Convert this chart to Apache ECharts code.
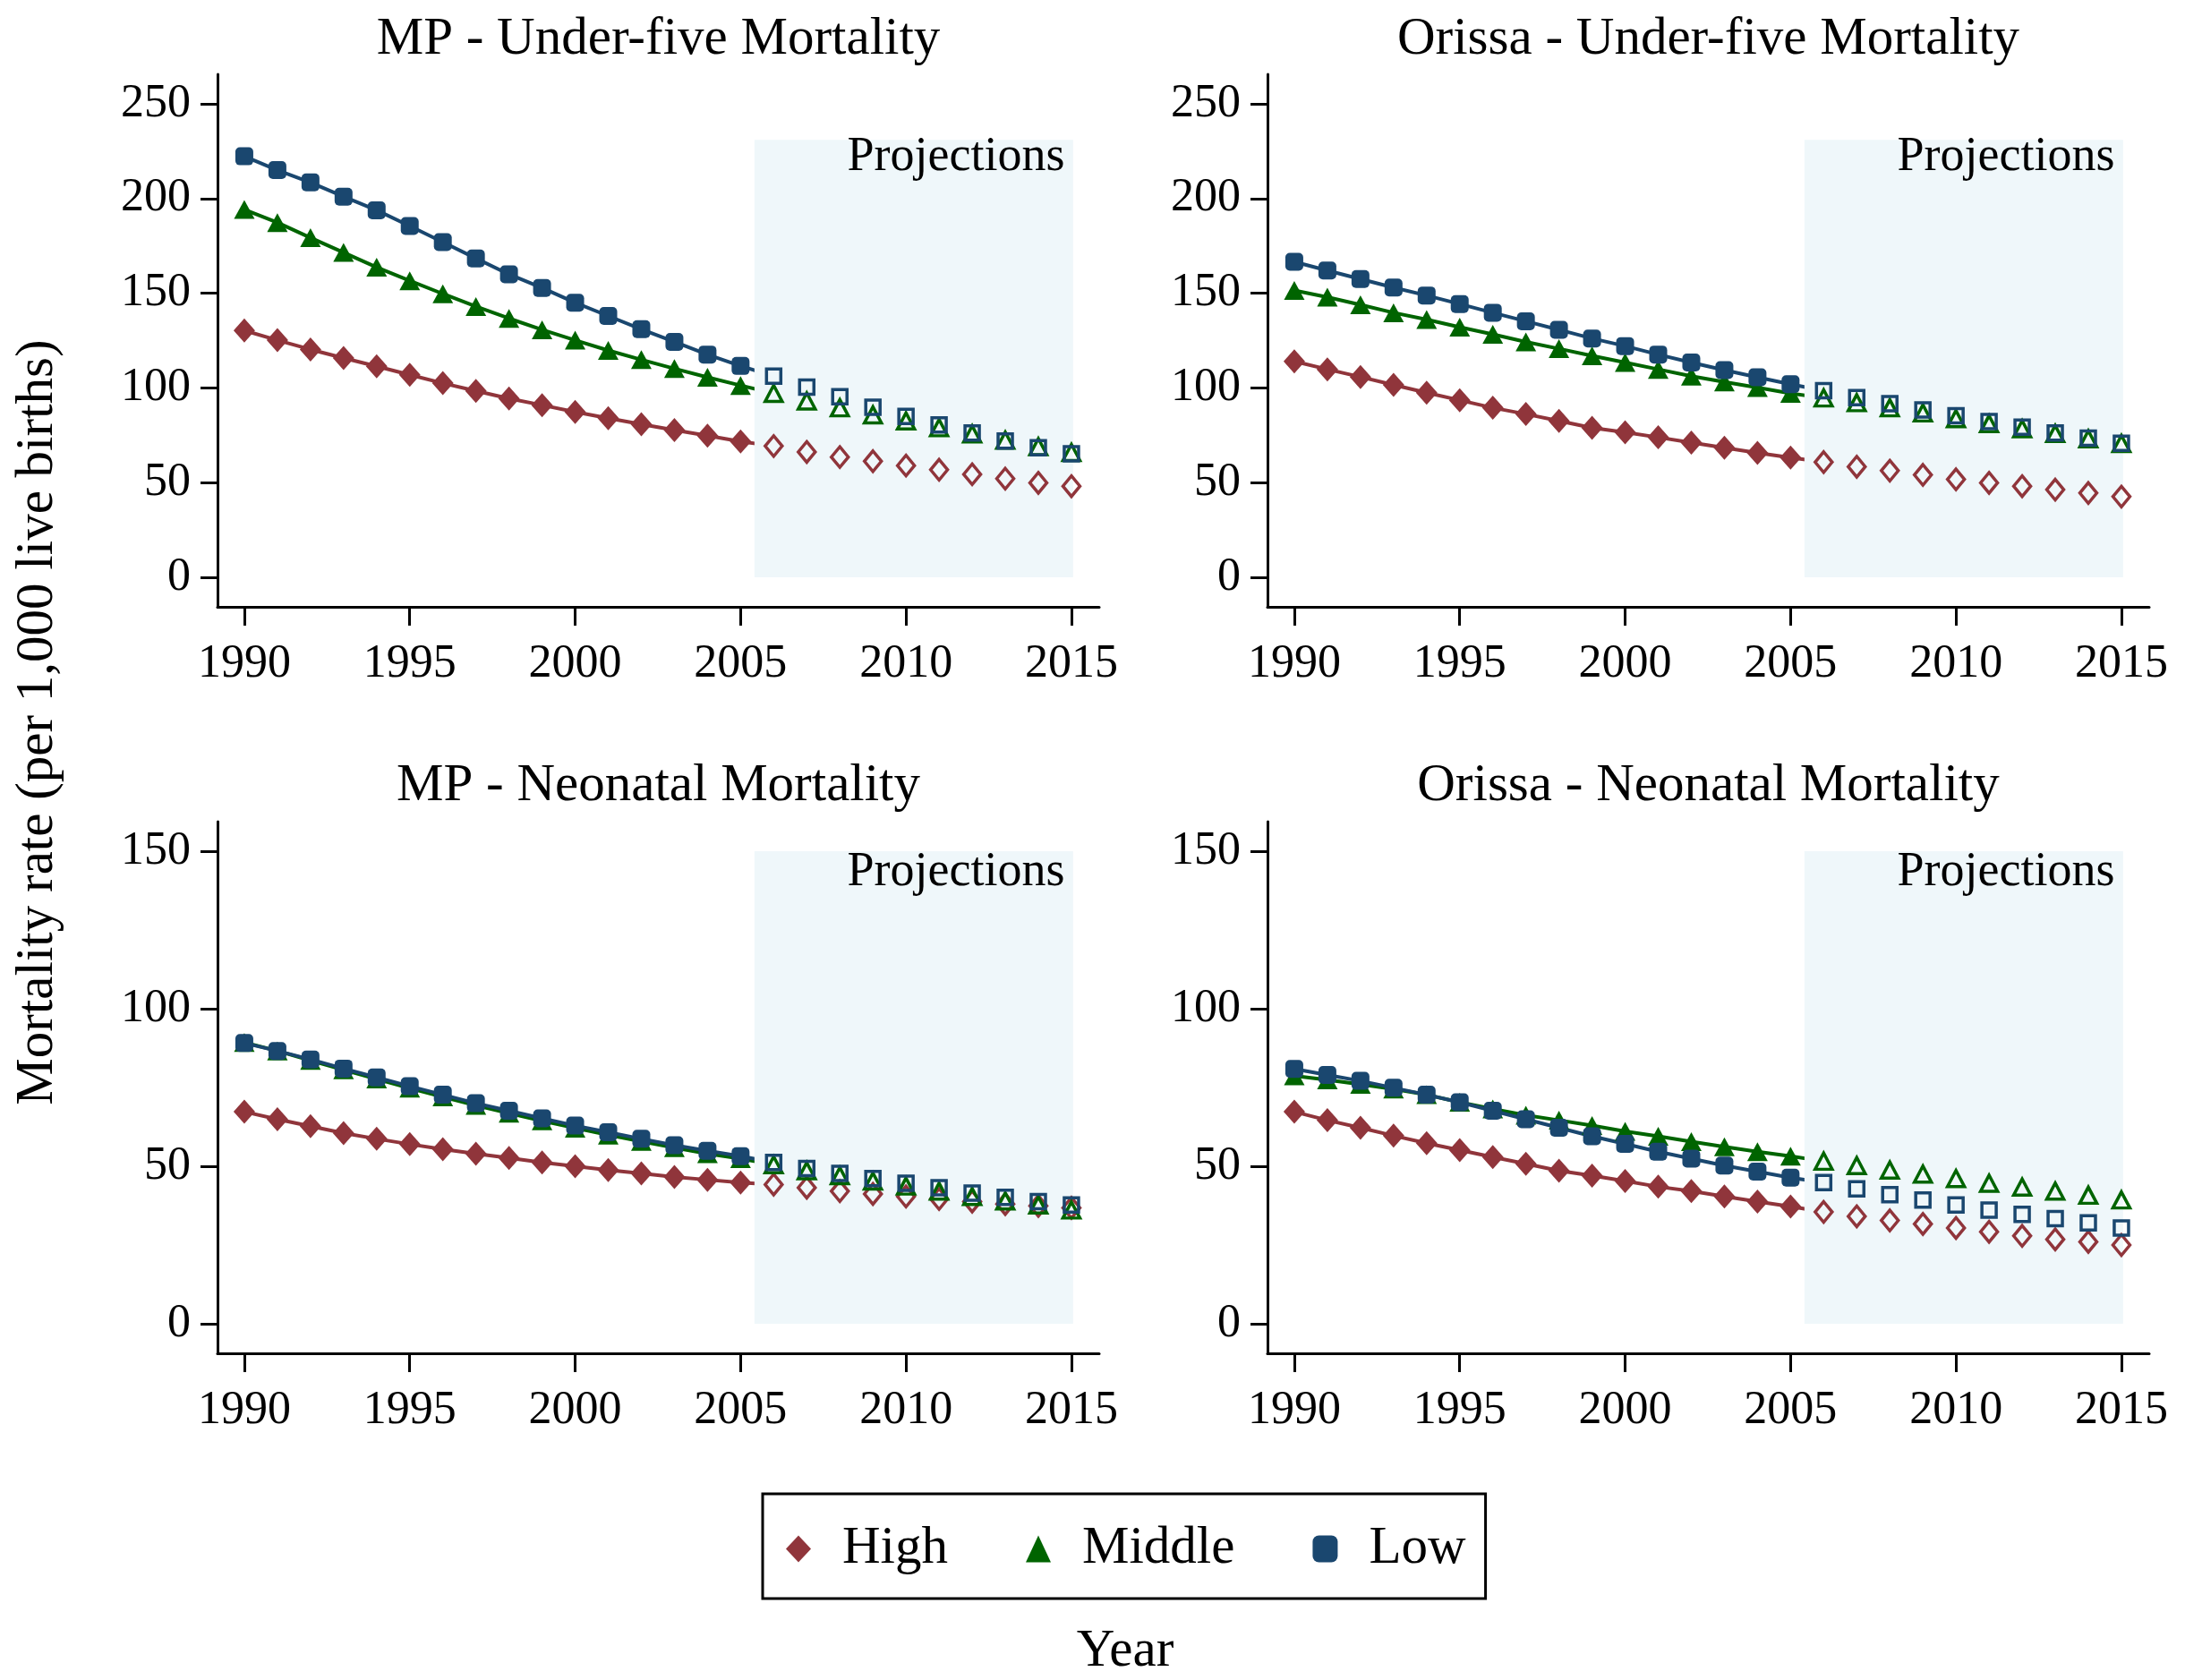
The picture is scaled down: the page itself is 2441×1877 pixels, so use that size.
<!DOCTYPE html>
<html><head><meta charset="utf-8">
<script src="https://cdn.jsdelivr.net/npm/echarts@6/dist/echarts.min.js"></script>
<style>html,body{margin:0;padding:0;background:#fff}#c{width:2441px;height:1877px}</style>
</head><body><div id="c"></div>
<script>
// ---------- data ----------
const years = [1990,1991,1992,1993,1994,1995,1996,1997,1998,1999,2000,2001,2002,2003,2004,2005,
               2006,2007,2008,2009,2010,2011,2012,2013,2014,2015];
const lastObservedYear = 2005;
const yearTicks = [1990,1995,2000,2005,2010,2015];
const u5Ticks = [0,50,100,150,200,250];
const nnTicks = [0,50,100,150];
const groupNames = ['High','Middle','Low'];
const panelTitles = ['MP - Under-five Mortality','Orissa - Under-five Mortality',
                     'MP - Neonatal Mortality','Orissa - Neonatal Mortality'];
const projectionLabel = 'Projections';
const projStart = 2005.42, projEnd = 2015.05;
const u5ProjTop = 231, nnProjTop = 150;

const mpU5High = [130.3,125.2,120.3,115.8,111.4,106.9,102.5,98.4,94.4,90.9,87.3,84.0,80.8,77.7,74.8,71.7,
                  69.3,66.2,63.5,61.3,59.0,56.8,54.4,52.1,49.9,48.1];
const mpU5Mid  = [194.2,187.3,179.3,171.5,163.7,156.6,149.7,143.0,136.7,130.7,125.2,119.8,114.9,110.2,105.6,101.3,
                  97.1,93.1,89.5,85.8,82.6,79.0,75.7,72.4,69.0,65.9];
const mpU5Low  = [222.3,215.0,208.5,201.0,193.8,185.5,177.0,168.4,160.0,152.8,145.0,138.0,131.0,124.3,117.6,111.6,
                  106.2,100.4,95.3,89.8,84.9,80.4,76.2,72.0,68.4,65.2];

const orU5High = [114.0,109.8,105.8,101.6,97.5,93.5,89.5,86.2,82.6,78.9,76.6,73.9,71.1,68.4,65.7,63.2,
                  60.8,58.4,56.3,54.1,51.7,49.9,48.1,46.3,44.5,42.6];
const orU5Mid  = [151.5,147.9,143.9,139.7,136.1,132.1,128.3,124.3,120.7,117.0,113.4,109.8,106.2,103.1,100.2,97.1,
                  94.7,92.2,89.5,86.8,83.8,81.1,78.4,75.9,73.1,70.6];
const orU5Low  = [166.6,162.0,157.5,153.0,148.8,144.3,139.7,135.2,130.7,126.1,122.1,117.6,113.4,109.4,105.6,102.0,
                  98.5,94.9,91.7,88.4,85.3,82.2,79.3,76.2,73.5,70.8];

const mpNNHigh = [67.3,64.9,62.7,60.5,58.7,57.0,55.4,54.0,52.6,51.2,50.0,48.8,47.7,46.6,45.7,44.8,
                  44.2,43.2,42.1,41.2,40.4,39.6,38.8,38.0,37.4,36.8];
const mpNNMid  = [89.3,86.6,83.6,80.6,77.7,74.8,72.0,69.3,66.8,64.4,62.1,59.9,57.9,55.9,54.0,52.4,
                  50.5,48.6,47.0,45.3,43.7,42.1,40.4,39.0,37.7,36.1];
const mpNNLow  = [89.1,86.6,83.9,81.0,78.2,75.4,72.7,70.0,67.6,65.2,62.9,60.8,58.7,56.7,54.9,53.2,
                  51.2,49.3,47.7,46.1,44.6,43.2,41.5,40.1,38.8,37.7];

const orNNHigh = [67.3,64.6,62.2,59.7,57.3,55.1,52.9,50.8,48.6,47.0,45.3,43.5,42.1,40.4,38.8,37.2,
                  35.5,34.1,32.8,31.7,30.4,29.2,27.9,26.8,26.0,25.0];
const orNNMid  = [78.7,77.4,76.0,74.5,72.7,70.3,68.2,66.2,64.6,62.9,61.1,59.5,57.8,56.2,54.6,53.2,
                  51.6,50.2,48.8,47.5,46.1,44.6,43.4,42.1,40.8,39.3];
const orNNLow  = [80.9,79.0,77.1,74.9,72.7,70.3,67.6,64.9,62.2,59.5,57.1,54.6,52.4,50.2,48.3,46.4,
                  44.8,42.8,41.0,39.3,37.7,36.1,34.7,33.4,32.0,30.4];

// ---------- styling ----------
const FONT = 'Liberation Serif';
const colors = ['#90353B', '#006400', '#1A476F'];
const filledSymbol = ['diamond', 'triangle', 'roundRect'];
const filledSize = [[24,27],[23,21],[20,20]];
const hollowSymbol = ['diamond', 'triangle', 'rect'];
const hollowSize = [[19,23],[19,18],[16,16]];

const panels = [
  {data:[mpU5High, mpU5Mid, mpU5Low], grid:{left:243, top:83, width:985, height:595}, y:[-15.6,265.6], ticks:u5Ticks, projTop:u5ProjTop, textY:221.6},
  {data:[orU5High, orU5Mid, orU5Low], grid:{left:1416, top:83, width:985, height:595}, y:[-15.6,265.6], ticks:u5Ticks, projTop:u5ProjTop, textY:221.6},
  {data:[mpNNHigh, mpNNMid, mpNNLow], grid:{left:243, top:918, width:985, height:594}, y:[-9.38,159.38], ticks:nnTicks, projTop:nnProjTop, textY:143.2},
  {data:[orNNHigh, orNNMid, orNNLow], grid:{left:1416, top:918, width:985, height:594}, y:[-9.38,159.38], ticks:nnTicks, projTop:nnProjTop, textY:143.2}
];

const grids = [], xAxes = [], yAxes = [], series = [], graphics = [];
const axisLineStyle = {color:'#000', width:3};
const plain = v => String(v);

panels.forEach((p, pi) => {
  grids.push(Object.assign({containLabel:false}, p.grid));
  xAxes.push({
    type:'value', gridIndex:pi, min:1989.19, max:2015.84,
    axisLine:{show:true, onZero:false, lineStyle:axisLineStyle},
    axisTick:{show:true, length:21, customValues:yearTicks, lineStyle:axisLineStyle},
    axisLabel:{customValues:yearTicks, formatter:plain, fontSize:52, fontFamily:FONT, color:'#000', margin:38},
    splitLine:{show:false}
  });
  yAxes.push({
    type:'value', gridIndex:pi, min:p.y[0], max:p.y[1],
    axisLine:{show:true, onZero:false, lineStyle:axisLineStyle},
    axisTick:{show:true, length:19, customValues:p.ticks, lineStyle:axisLineStyle},
    axisLabel:{customValues:p.ticks, formatter:plain, fontSize:52, fontFamily:FONT, color:'#000', margin:30},
    splitLine:{show:false}
  });

  // filled markers (observed)
  p.data.forEach((vals, gi) => {
    series.push({
      name:groupNames[gi], type:'scatter', xAxisIndex:pi, yAxisIndex:pi, z:4,
      symbol:filledSymbol[gi], symbolSize:filledSize[gi],
      itemStyle:{color:colors[gi], opacity:1},
      data: years.map((yr,i)=>[yr, vals[i]]).filter(d => d[0] <= lastObservedYear)
    });
  });
  // connecting lines
  p.data.forEach((vals, gi) => {
    series.push({
      name:groupNames[gi], type:'line', xAxisIndex:pi, yAxisIndex:pi, z:2,
      symbol:'none', showSymbol:false,
      lineStyle:{color:colors[gi], width:4}, itemStyle:{color:colors[gi]},
      data: years.map((yr,i)=>[yr, vals[i]])
    });
  });
  // projection area
  series.push({
    type:'custom', xAxisIndex:pi, yAxisIndex:pi, z:3, silent:true,
    encode:{x:[0,2], y:[1,3]},
    data:[[projStart, 0, projEnd, p.projTop, 2014.8, p.textY]],
    renderItem:(params, api) => {
      const a = api.coord([api.value(0), api.value(1)]);
      const b = api.coord([api.value(2), api.value(3)]);
      const t = api.coord([api.value(4), api.value(5)]);
      return {type:'group', children:[
        {type:'rect', shape:{x:a[0], y:b[1], width:b[0]-a[0], height:a[1]-b[1]}, style:{fill:'#EFF7FA'}},
        {type:'text', x:t[0], y:t[1], style:{text:projectionLabel, fontSize:54, fontFamily:FONT, fill:'#000', align:'right', verticalAlign:'middle'}}
      ]};
    }
  });
  // hollow markers (projections)
  p.data.forEach((vals, gi) => {
    series.push({
      name:groupNames[gi], type:'scatter', xAxisIndex:pi, yAxisIndex:pi, z:5,
      symbol:hollowSymbol[gi], symbolSize:hollowSize[gi],
      itemStyle:{color:'rgba(0,0,0,0)', borderColor:colors[gi], borderWidth:3.5, opacity:1},
      data: years.map((yr,i)=>[yr, vals[i]]).filter(d => d[0] > lastObservedYear)
    });
  });

  graphics.push({
    type:'text', x:p.grid.left + p.grid.width/2, y:(pi < 2 ? 44 : 878.5),
    style:{text:panelTitles[pi], fontSize:59, fontFamily:FONT, fill:'#000', align:'center', verticalAlign:'middle'}
  });
});

graphics.push({
  type:'text', x:42, y:807, rotation:Math.PI/2,
  style:{text:'Mortality rate (per 1,000 live births)', fontSize:59, fontFamily:FONT, fill:'#000', align:'center', verticalAlign:'middle'}
});
graphics.push({
  type:'text', x:1257, y:1845,
  style:{text:'Year', fontSize:59, fontFamily:FONT, fill:'#000', align:'center', verticalAlign:'middle'}
});

const chart = echarts.init(document.getElementById('c'), null, {renderer:'canvas'});
chart.setOption({
  animation:false,
  backgroundColor:'#fff',
  grid:grids, xAxis:xAxes, yAxis:yAxes,
  legend:{
    data:[{name:'High', icon:'diamond'}, {name:'Middle', icon:'triangle'}, {name:'Low', icon:'roundRect'}],
    left:852, top:1669, orient:'horizontal',
    itemWidth:28, itemHeight:30, itemGap:87,
    padding:[32, 22, 26, 26],
    borderColor:'#000', borderWidth:3, borderRadius:0,
    selectedMode:false,
    textStyle:{fontSize:59, fontFamily:FONT, color:'#000', padding:[0,0,0,30]}
  },
  graphic:graphics,
  series:series
});
</script>
</body></html>
